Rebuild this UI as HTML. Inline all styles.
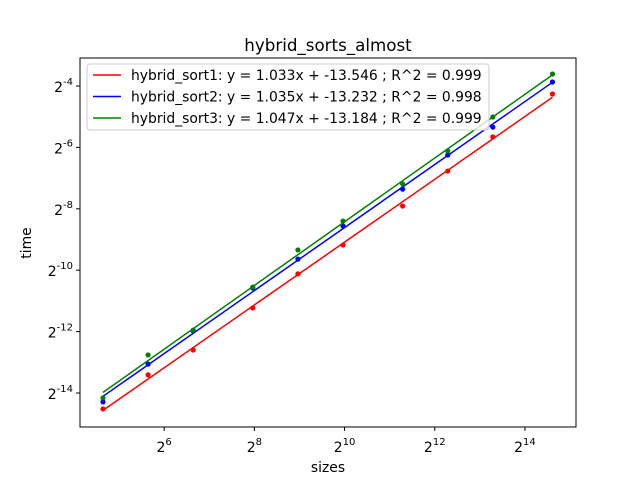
<!DOCTYPE html>
<html><head><meta charset="utf-8"><style>
body{margin:0;background:#fff}
svg{font-family:"DejaVu Sans","Liberation Sans",sans-serif}
</style></head><body>
<svg width="640" height="480">
<g id="g"></g>
</svg>
<script>
const sizesLog2=[4.644,5.644,6.644,7.966,8.966,9.966,11.288,12.288,13.288,14.61];
const sort1=[-14.52,-13.41,-12.60,-11.23,-10.12,-9.18,-7.91,-6.77,-5.66,-4.26];
const sort2=[-14.29,-13.06,-11.98,-10.58,-9.64,-8.56,-7.36,-6.25,-5.34,-3.87];
const sort3=[-14.16,-12.76,-11.95,-10.55,-9.34,-8.40,-7.19,-6.12,-5.01,-3.61];
const xTicks=[6,8,10,12,14];
const yTicks=[-4,-6,-8,-10,-12,-14];
const legendLabels=["hybrid_sort1: y = 1.033x + -13.546 ; R^2 = 0.999","hybrid_sort2: y = 1.035x + -13.232 ; R^2 = 0.998","hybrid_sort3: y = 1.047x + -13.184 ; R^2 = 0.999"];
const colors=["#ff0000","#0000ff","#008000"];
const series=[sort1,sort2,sort3];
const X=L=>103+(L-4.644)*45.1;
const Y=L=>86+(-4-L)*30.7;
const NS="http://www.w3.org/2000/svg";
const g=document.getElementById('g');
function mk(t,a,p){const e=document.createElementNS(NS,t);for(const k in a)e.setAttribute(k,a[k]);(p||g).appendChild(e);return e;}
const frame=mk('rect',{x:80,y:58,width:496,height:369,fill:'none',stroke:'#000','stroke-width':1});


xTicks.forEach(t=>{const x=X(t);
 const l=mk('line',{x1:x,x2:x,y1:427,y2:431,stroke:'#000'});
 
 const tx=mk('text',{x:x,y:452,'text-anchor':'middle','font-size':14});
 
 tx.innerHTML='2<tspan dy="-7" font-size="10">'+t+'</tspan>';});
yTicks.forEach(t=>{const y=Y(t);
 const l=mk('line',{x1:76,x2:80,y1:y,y2:y,stroke:'#000'});
 
 const tx=mk('text',{x:73,y:y+6,'font-size':14,'text-anchor':'end'});
 
 tx.innerHTML='2<tspan dy="-7" font-size="10">'+t+'</tspan>';});
series.forEach((s,i)=>{
 const n=s.length;let mx=0,my=0;sizesLog2.forEach((x,j)=>{mx+=x;my+=s[j];});mx/=n;my/=n;
 let sxy=0,sxx=0;sizesLog2.forEach((x,j)=>{sxy+=(x-mx)*(s[j]-my);sxx+=(x-mx)*(x-mx);});
 const a=sxy/sxx,b=my-a*mx;const x0=sizesLog2[0],x1=sizesLog2[n-1];
 const l=mk('line',{x1:X(x0),y1:Y(a*x0+b),x2:X(x1),y2:Y(a*x1+b),stroke:colors[i],'stroke-width':1.5});
 
 s.forEach((v,j)=>{const c=mk('circle',{cx:X(sizesLog2[j]),cy:Y(v),r:2.6,fill:colors[i]});
  });
});
const lg=mk('g',{});

mk('rect',{x:87,y:64,width:402,height:66,rx:3,fill:'#fff','fill-opacity':0.8,stroke:'#ccc'},lg);
legendLabels.forEach((t,i)=>{const y=75+i*21.5;
 mk('line',{x1:93,x2:121,y1:y,y2:y,stroke:colors[i],'stroke-width':1.5},lg);
 const tx=mk('text',{x:131,y:y+5,'font-size':13.9},lg);
 
 tx.textContent=t;});
const ti=mk('text',{x:328,y:51,'text-anchor':'middle','font-size':16.7});
ti.textContent='hybrid_sorts_almost';
const xl=mk('text',{x:328,y:472,'text-anchor':'middle','font-size':13.9});
xl.textContent='sizes';
const yl=mk('text',{x:0,y:0,'text-anchor':'middle','font-size':13.9,transform:'translate(31,243) rotate(-90)'});
yl.textContent='time';
</script>
</body></html>
